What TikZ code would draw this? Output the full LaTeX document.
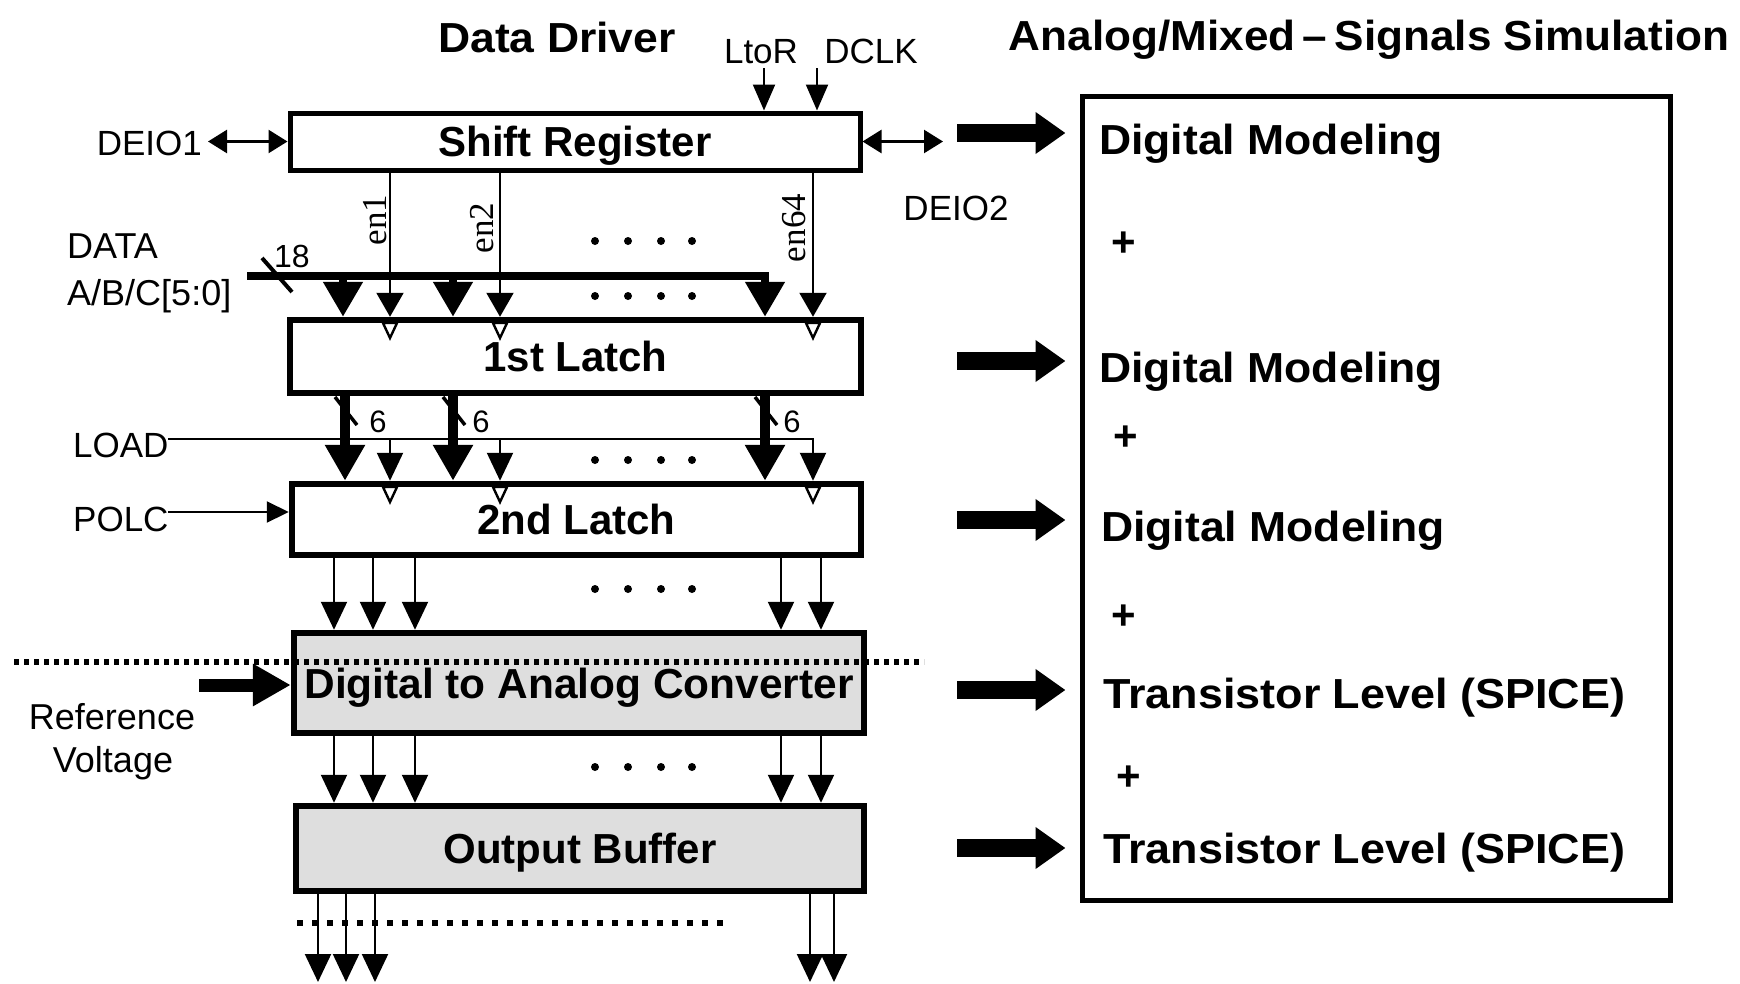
\documentclass[tikz,border=0pt]{standalone}
\usepackage{fontspec}
\setmainfont{Liberation Sans}
\newfontfamily\enfont{Liberation Serif}
\usepackage{graphicx}
\usetikzlibrary{arrows.meta,calc}
\newcommand{\hs}[2]{\scalebox{#1}[1]{#2}}
\begin{document}
\begin{tikzpicture}[x=1pt,y=-1pt,
  lbl/.style={font=\fontsize{35}{40}\selectfont, inner sep=0},
  rlbl/.style={font=\fontsize{36}{40}\selectfont, inner sep=0},
  enl/.style={font=\fontsize{35}{40}\selectfont\enfont, inner sep=0, rotate=90},
  ttl/.style={font=\fontsize{42}{48}\selectfont\bfseries, inner sep=0},
  blk/.style={draw, line width=6.5pt, inner sep=0, text height=30pt, text depth=0pt,
              font=\fontsize{42}{48}\selectfont\bfseries},
  gblk/.style={blk, fill=black!13},
  simbox/.style={draw, line width=5pt, inner sep=0},
  sig/.style={line width=2.2pt, -{Triangle[length=28pt,width=26pt]}},
  dbl/.style={line width=2.5pt, {Triangle[length=19pt,width=23pt]}-{Triangle[length=19pt,width=23pt]}},
  busA/.style={line width=8pt, -{Triangle[length=35pt,width=38pt]}},
  busB/.style={line width=10pt, -{Triangle[length=36pt,width=38pt]}},
  fat/.style={line width=18pt, -{Triangle[length=30pt,width=40pt]}},
  refA/.style={line width=13pt, -{Triangle[length=38pt,width=40pt]}},
  clk/.style={line width=2.4pt, fill=white, line join=miter},
  slash/.style={line width=3.5pt},
  bdot/.style={fill, circle, inner sep=0, minimum size=8pt},
  seprow/.style={line width=6pt, dash pattern=on 5pt off 5pt},
]
\fill[white] (0,0) rectangle (1740,983);
\useasboundingbox (0,0) rectangle (1740,983);

% titles
\node[ttl, anchor=base] (dd) at (557,52) {\hs{1.06}{Data Driver}};
\node[ttl, anchor=base] (ams) at (1369,50) {\hs{1.05}{Analog/Mixed\,–\,Signals Simulation}};

% blocks
\node[blk, line width=5pt, minimum width=570pt, minimum height=57pt] (sr) at (575,141.5) {Shift Register};
\node[blk, minimum width=571pt, minimum height=73pt] (l1) at (575.5,356.5) {1st Latch};
\node[blk, minimum width=569pt, minimum height=71pt] (l2) at (576.5,519.5) {2nd Latch};
\node[gblk, minimum width=570pt, minimum height=100pt] (dac) at (579,683) {\hs{1.01}{Digital to Analog Converter}};
\node[gblk, minimum width=568pt, minimum height=85pt] (ob) at (580,848.5) {Output Buffer};
\node[simbox, minimum width=588pt, minimum height=804pt] (sim) at (1376,498) {};

% top inputs
\node[lbl, anchor=base] (ltor) at (761,63) {LtoR};
\node[lbl, anchor=base] (dclk) at (871,63) {DCLK};
\coordinate (ltorA) at (764,68);
\coordinate (dclkA) at (817,68);
\draw[sig, -{Triangle[length=26pt,width=22pt]}] (ltorA) -- (ltorA |- sr.north);
\draw[sig, -{Triangle[length=26pt,width=22pt]}] (dclkA) -- (dclkA |- sr.north);

% DEIO
\node[lbl, anchor=base east] (deio1) at (202,155) {DEIO1};
\node[lbl, anchor=base] (deio2) at (956,220) {DEIO2};
\coordinate (d1) at (208,141.5);
\coordinate (d2) at (943,141.5);
\draw[dbl] (d1) -- (sr.west);
\draw[dbl] (sr.east) -- (d2);

% enable lines
\node[enl] (en1) at (375,220) {en1};
\node[enl] (en2) at (482,228) {en2};
\node[enl] (en64) at (794,228) {en64};
\foreach \x/\n in {390/a,500/b,813/c}{
  \coordinate (e\n) at (\x,0);
  \draw[sig, -{Triangle[length=24pt,width=27pt]}] (e\n |- sr.south) -- (e\n |- l1.north);
}

% data bus
\node[rlbl, anchor=base west] (data) at (67,258) {DATA};
\node[rlbl, anchor=base west] (abc) at (67,305) {A/B/C[5:0]};
\coordinate (busL) at (247,276);
\coordinate (b1) at (343,276);
\coordinate (b2) at (453,276);
\coordinate (b3) at (765,276);
\draw[busA] (busL) -| (b3 |- l1.north);
\draw[busA] (b1) -- (b1 |- l1.north);
\draw[busA] (b2) -- (b2 |- l1.north);
\coordinate (s18a) at (262,258);
\coordinate (s18b) at (292,292);
\draw[slash, line width=4pt] (s18a) -- (s18b);
\node[inner sep=0, font=\fontsize{32}{34}\selectfont, anchor=base west] (n18) at (274,267) {18};

% clock markers in 1st latch
\foreach \x in {390,500,813}{
  \draw[clk] (\x-7,323) -- (\x+7,323) -- (\x,338) -- cycle;
}

% LOAD
\node[lbl, anchor=base west] (load) at (73,457) {LOAD};
\coordinate (ld) at (168,439);
\coordinate (ldA) at (390,439);
\coordinate (ldB) at (500,439);
\coordinate (ldC) at (813,439);
\draw[sig] (ld) -| (ldC |- l2.north);
\draw[sig] (ldA) -- (ldA |- l2.north);
\draw[sig] (ldB) -- (ldB |- l2.north);

% latch1 -> latch2 buses
\foreach \x/\t in {345/378,453/481,765/792}{
  \coordinate (lb) at (\x,0);
  \draw[busB] (lb |- l1.south) -- (lb |- l2.north);
  \draw[slash] (\x-10,397) -- (\x+12,425);
  \node[inner sep=0, font=\fontsize{31}{34}\selectfont, anchor=base] at (\t,432) {6};
}

% clock markers in 2nd latch
\foreach \x in {390,500,813}{
  \draw[clk] (\x-7,487) -- (\x+7,487) -- (\x,502) -- cycle;
}

% POLC
\node[lbl, anchor=base west] (polc) at (73,531) {POLC};
\coordinate (pc) at (168,512);
\draw[sig, -{Triangle[length=22pt,width=21pt]}] (pc) -- (l2.west |- pc);

% latch2 -> DAC -> OB
\foreach \x in {334,373,415,781,821}{
  \coordinate (q) at (\x,0);
  \draw[sig] (q |- l2.south) -- (q |- dac.north);
  \draw[sig] (q |- dac.south) -- (q |- ob.north);
}
% outputs
\foreach \x in {318,346,375,810,834}{
  \coordinate (o) at (\x,982);
  \draw[sig] (o |- ob.south) -- (o);
}

% dots
\foreach \y in {241,296,460,589,767}{
  \foreach \x in {595,628,661,692}{
    \node[bdot] at (\x,\y) {};
  }
}

% separation dotted lines
\draw[seprow] (14,662) -- (924,662);
\draw[line width=6pt, dash pattern=on 6pt off 9pt] (297,923) -- (723,923);

% reference voltage
\coordinate (rv) at (199,685);
\draw[refA] (rv) -- (dac.west |- rv);
\node[rlbl, anchor=base] (ref) at (112,729) {Reference};
\node[rlbl, anchor=base] (volt) at (113,772) {Voltage};

% fat arrows to simulation box
\foreach \y/\n in {133/1,361/2,520/3,690/4,848/5}{
  \coordinate (fa\n) at (957,\y);
  \draw[fat] (fa\n) -- ($(sim.west |- fa\n)+(-14,0)$);
}

% simulation box texts
\node[ttl, anchor=base west] (t1) at (1099,154) {\hs{1.06}{Digital Modeling}};
\node[ttl, anchor=base west] (t2) at (1099,382) {\hs{1.06}{Digital Modeling}};
\node[ttl, anchor=base west] (t3) at (1101,541) {\hs{1.06}{Digital Modeling}};
\node[ttl, anchor=base west] (t4) at (1103,708) {\hs{1.07}{Transistor Level (SPICE)}};
\node[ttl, anchor=base west] (t5) at (1103,863) {\hs{1.07}{Transistor Level (SPICE)}};
\node[ttl, anchor=base] (p1) at (1124,256) {+};
\node[ttl, anchor=base] (p2) at (1126,450) {+};
\node[ttl, anchor=base] (p3) at (1124,629) {+};
\node[ttl, anchor=base] (p4) at (1129,790) {+};
\end{tikzpicture}
\end{document}
